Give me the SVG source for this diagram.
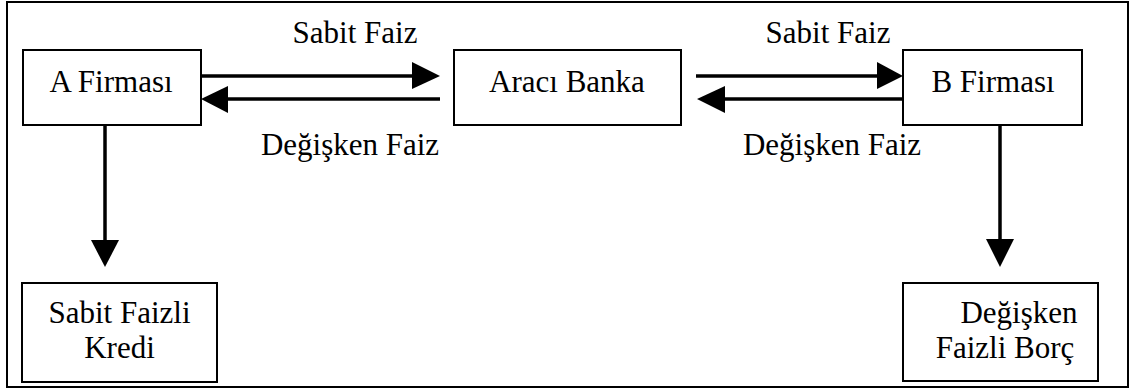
<svg xmlns="http://www.w3.org/2000/svg" width="1132" height="389" viewBox="0 0 1132 389">
<style>
.box{fill:#fff;stroke:#000;stroke-width:2}
.t{font-family:"Liberation Serif","Times New Roman",serif;font-size:31px;fill:#000;text-anchor:middle}
.ln{stroke:#000;stroke-width:3.5;fill:none}
.hd{fill:#000}
</style>
<rect x="7" y="2" width="1121" height="385" fill="#fff" stroke="#000" stroke-width="2"/>
<g id="connectors">
<line class="ln" x1="201" y1="76" x2="414" y2="76"/>
<polygon class="hd" points="412,62 440,76 412,89"/>
<line class="ln" x1="440" y1="99" x2="226" y2="99"/>
<polygon class="hd" points="228,86 201,99 228,113"/>
<line class="ln" x1="696" y1="76" x2="879" y2="76"/>
<polygon class="hd" points="877,62 903,76 877,89"/>
<line class="ln" x1="903" y1="99" x2="723" y2="99"/>
<polygon class="hd" points="725,86 697,99 725,113"/>
<line class="ln" x1="105" y1="125" x2="105" y2="242"/>
<polygon class="hd" points="91,240 119,240 105,267"/>
<line class="ln" x1="1000" y1="125" x2="1000" y2="241"/>
<polygon class="hd" points="986,239 1014,239 1000,267"/>
<text class="t" x="355" y="43">Sabit Faiz</text>
<text class="t" x="350" y="155">Değişken Faiz</text>
<text class="t" x="828" y="43">Sabit Faiz</text>
<text class="t" x="832" y="155">Değişken Faiz</text>
</g>
<g id="a-firmasi">
<rect class="box" x="23" y="50" width="178" height="75"/>
<text class="t" x="111" y="92">A Firması</text>
</g>
<g id="araci-banka">
<rect class="box" x="454" y="50" width="227" height="75"/>
<text class="t" x="567" y="92">Aracı Banka</text>
</g>
<g id="b-firmasi">
<rect class="box" x="903" y="50" width="179" height="75"/>
<text class="t" x="993" y="92">B Firması</text>
</g>
<g id="sabit-faizli-kredi">
<rect class="box" x="22" y="283" width="195" height="99"/>
<text class="t" x="119.5" y="323">Sabit Faizli</text>
<text class="t" x="119.5" y="358">Kredi</text>
</g>
<g id="degisken-faizli-borc">
<rect class="box" x="903" y="283" width="195" height="98"/>
<text class="t" x="1019" y="323">Değişken</text>
<text class="t" x="1005" y="358">Faizli Borç</text>
</g>
</svg>
